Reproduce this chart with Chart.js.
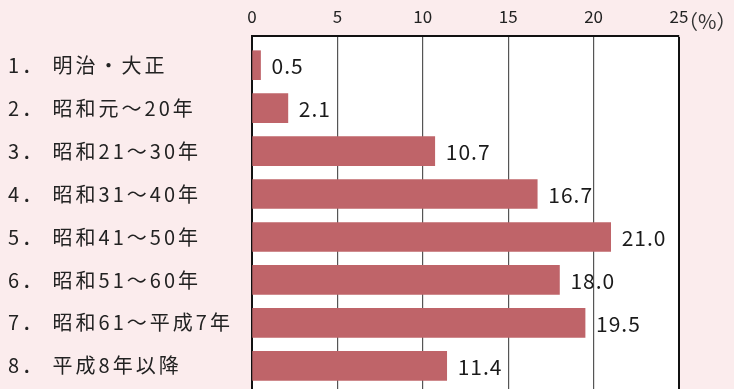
<!DOCTYPE html>
<html>
<head>
<meta charset="utf-8">
<script src="https://cdn.jsdelivr.net/npm/chart.js@4/dist/chart.umd.min.js"></script>
<style>
  html, body { margin: 0; padding: 0; background: #fbeced; overflow: hidden; }
  .wrap { width: 734px; height: 395px; }
</style>
</head>
<body>
<div class="wrap"><canvas id="chart" width="734" height="395"></canvas></div>
<script>
const categories = [
    "1． 明治・大正",
    "2． 昭和元～20年",
    "3． 昭和21～30年",
    "4． 昭和31～40年",
    "5． 昭和41～50年",
    "6． 昭和51～60年",
    "7． 昭和61～平成7年",
    "8． 平成8年以降",
];
const shares = [0.5, 2.1, 10.7, 16.7, 21.0, 18.0, 19.5, 11.4];
const xTicks = [0, 5, 10, 15, 20, 25];
const unitLabel = "（%）";

const jpFont = "'Noto Sans CJK JP', 'Noto Sans', sans-serif";

// white plot area on the pink page, wide letter spacing for the row labels
const plotBackground = {
    id: "plotBackground",
    beforeDraw(chart) {
        const { ctx, chartArea } = chart;
        ctx.letterSpacing = "3px";
        ctx.save();
        ctx.fillStyle = "#ffffff";
        ctx.fillRect(chartArea.left, chartArea.top, chartArea.right - chartArea.left, chartArea.bottom - chartArea.top);
        ctx.restore();
    },
};

// numbers at the end of each bar + (%) unit next to the last tick
const valueLabels = {
    id: "valueLabels",
    afterDatasetsDraw(chart) {
        const ctx = chart.ctx;
        const meta = chart.getDatasetMeta(0);
        ctx.save();
        ctx.letterSpacing = "1px";
        ctx.font = "21px " + jpFont;
        ctx.fillStyle = "#1a1a1a";
        ctx.textAlign = "left";
        ctx.textBaseline = "middle";
        meta.data.forEach((bar, i) => {
            ctx.fillText(shares[i].toFixed(1), bar.x + 11, bar.y + 1);
        });
        const xs = chart.scales.x;
        ctx.letterSpacing = "0px";
        ctx.font = "20px " + jpFont;
        ctx.fillStyle = "#333";
        ctx.fillText(unitLabel, xs.getPixelForValue(xTicks[xTicks.length - 1]) - 1, 21);
        ctx.restore();
        // top tick labels are drawn after this, without spacing
        ctx.letterSpacing = "0px";
    },
};

new Chart(document.getElementById("chart"), {
    type: "bar",
    data: {
        datasets: [
            {
                data: shares.map((v, i) => ({ x: v, y: i })),
                backgroundColor: "#bf6469",
                borderWidth: 0,
                barThickness: 29,
            },
        ],
    },
    options: {
        indexAxis: "y",
        responsive: false,
        animation: false,
        layout: { padding: { left: 8, right: 55, top: 0, bottom: 0 } },
        plugins: {
            legend: { display: false },
            tooltip: { enabled: false },
        },
        scales: {
            x: {
                type: "linear",
                position: "top",
                min: 0,
                max: 25,
                afterBuildTicks: (scale) => {
                    scale.ticks = xTicks.map((v) => ({ value: v }));
                },
                afterFit: (scale) => {
                    scale.height = 36;
                },
                ticks: {
                    z: 1,
                    padding: 9,
                    color: "#222",
                    font: { size: 17, family: jpFont },
                },
                grid: {
                    drawTicks: false,
                    color: (c) => (c.tick && c.tick.value === 25 ? "#111" : "#555"),
                    lineWidth: (c) => (c.tick && c.tick.value === 25 ? 2 : 1.2),
                },
                border: { display: true, color: "#111", width: 2 },
            },
            y: {
                type: "linear",
                reverse: true,
                offset: false,
                min: -0.68,
                max: 7.68,
                afterBuildTicks: (scale) => {
                    scale.ticks = categories.map((c, i) => ({ value: i }));
                },
                afterFit: (scale) => {
                    scale.width = 244;
                    scale.paddingTop = 0;
                    scale.paddingBottom = 0;
                },
                ticks: {
                    crossAlign: "far",
                    autoSkip: false,
                    color: "#222",
                    font: { size: 20, family: jpFont },
                    callback: (value) => categories[value] || "",
                },
                grid: { display: false, offset: false },
                border: { display: true, color: "#111", width: 2 },
            },
        },
    },
    plugins: [plotBackground, valueLabels],
});
</script>
</body>
</html>
